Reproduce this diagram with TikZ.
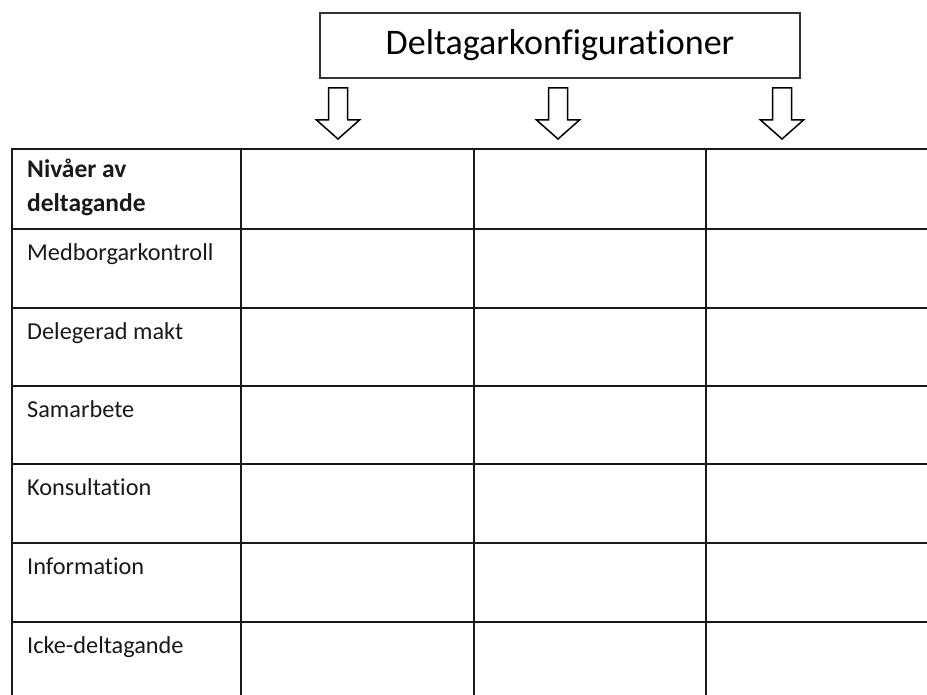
\documentclass[tikz,border=0pt]{standalone}
\usepackage{fontspec}
\setmainfont[Ligatures={CommonOff,ContextualOff}]{Carlito}
\begin{document}
\begin{tikzpicture}[x=1pt,y=-1pt,
  gridline/.style={line width=2pt,black!90},
  blockarrow/.style={draw=black,line width=1.5pt,line join=miter,fill=white},
  titlebox/.style={draw=black!80,line width=1.2pt,minimum width=480pt,minimum height=65pt,inner sep=0pt,font=\fontsize{36}{40}\selectfont},
  celltext/.style={anchor=base west,inner sep=0pt,font=\fontsize{24.3}{29}\selectfont,text=black!90},
  headtext/.style={celltext,font=\fontsize{25.5}{34}\selectfont\bfseries,align=left}]
\useasboundingbox (0,0) rectangle (927,695);
% title
\node[titlebox] (title) at (560,45.5) {Deltagarkonfigurationer};
% block arrows
\foreach \cx/\nm in {338/arrA,558/arrB,782/arrC}{
  \coordinate (\nm) at (\cx,88);
  \draw[blockarrow] ([xshift=-9.5pt]\nm) -- ([xshift=9.5pt]\nm) -- ([xshift=9.5pt,yshift=-32pt]\nm)
     -- ([xshift=21.5pt,yshift=-32pt]\nm) -- ([yshift=-51pt]\nm) -- ([xshift=-21.5pt,yshift=-32pt]\nm)
     -- ([xshift=-9.5pt,yshift=-32pt]\nm) -- cycle;
}
% table grid
\foreach \y in {149,229,308,386,464,543,622}{
  \draw[gridline] (11,\y) -- (927,\y);
}
\foreach \x in {12,241,474,706}{
  \draw[gridline] (\x,148) -- (\x,695);
}
% row labels
\node[headtext] (hdr) at (27,212) {Nivåer av\\deltagande};
\node[celltext] (r1) at (27,260.5) {Medborgarkontroll};
\node[celltext] (r2) at (27,339.5) {Delegerad makt};
\node[celltext] (r3) at (27,417.5) {Samarbete};
\node[celltext] (r4) at (27,495.5) {Konsultation};
\node[celltext] (r5) at (27,574.5) {Information};
\node[celltext] (r6) at (27,653) {Icke-deltagande};
\end{tikzpicture}
\end{document}
